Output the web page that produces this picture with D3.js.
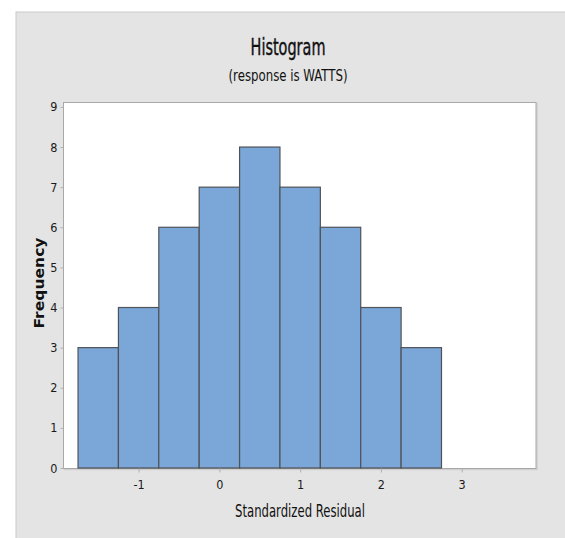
<!DOCTYPE html>
<html>
<head>
<meta charset="utf-8">
<script src="https://cdn.jsdelivr.net/npm/d3@7"></script>
<style>
  body { margin: 0; background: #fff; }
  text { font-family: "Liberation Sans Narrow", "DejaVu Sans Condensed", "Liberation Sans", sans-serif; fill: #111; }
  .axis path, .axis line { stroke: #b0b0b0; }
  .axis text { font-size: 12.5px; fill: #1a1a1a; }
</style>
</head>
<body>
<svg width="565" height="538"></svg>
<script>
// histogram of standardized residuals
var binEdges = [-1.75, -1.25, -0.75, -0.25, 0.25, 0.75, 1.25, 1.75, 2.25, 2.75];
var counts = [3, 4, 6, 7, 8, 7, 6, 4, 3];
var xTicks = [-1, 0, 1, 2, 3];
var yTicks = [0, 1, 2, 3, 4, 5, 6, 7, 8, 9];

var bins = counts.map(function(c, i) {
    return { x0: binEdges[i], x1: binEdges[i + 1], n: c };
});

var svg = d3.select("svg");

// gray panel
svg.append("rect")
    .attr("x", 16).attr("y", 12)
    .attr("width", 560).attr("height", 540)
    .attr("fill", "#e4e4e4")
    .attr("stroke", "#c9c9c9");

var plotL = 63.5, plotR = 536, plotT = 102.5, plotB = 468.5;

var x = d3.scaleLinear().domain([-1.93, 3.92]).range([plotL, plotR]);
var y = d3.scaleLinear().domain([0, 9.11]).range([plotB - 0.5, plotT]);

// plot area
svg.append("rect")
    .attr("x", plotL + 1).attr("y", plotT + 1)
    .attr("width", plotR - plotL).attr("height", plotB - plotT)
    .attr("fill", "none").attr("stroke", "#cfcfcf").attr("stroke-width", 1.5);
svg.append("rect")
    .attr("x", plotL).attr("y", plotT)
    .attr("width", plotR - plotL).attr("height", plotB - plotT)
    .attr("fill", "#fff").attr("stroke", "#a8a8a8");

svg.append("text")
    .attr("x", 288).attr("y", 55)
    .attr("text-anchor", "middle")
    .attr("font-size", 23)
    .style("stroke", "#111").style("stroke-width", 0.4)
    .attr("textLength", 75).attr("lengthAdjust", "spacingAndGlyphs")
    .text("Histogram");

svg.append("text")
    .attr("x", 288).attr("y", 81)
    .attr("text-anchor", "middle")
    .attr("font-size", 16)
    .attr("textLength", 119).attr("lengthAdjust", "spacingAndGlyphs")
    .text("(response is WATTS)");

svg.selectAll(".bar")
    .data(bins)
    .enter()
    .append("rect")
    .attr("class", "bar")
    .attr("x", function(d) { return x(d.x0); })
    .attr("y", function(d) { return y(d.n); })
    .attr("width", function(d) { return x(d.x1) - x(d.x0); })
    .attr("height", function(d) { return y(0) - y(d.n); })
    .attr("fill", "#7ba6d8")
    .attr("stroke", "#4f5358")
    .attr("stroke-width", 1.2);

var gx = svg.append("g")
    .attr("class", "axis")
    .attr("transform", "translate(0," + plotB + ")")
    .call(d3.axisBottom(x).tickValues(xTicks).tickSize(4).tickPadding(8).tickFormat(function(d) { return String(d); }));
gx.select(".domain").remove();

var gy = svg.append("g")
    .attr("class", "axis")
    .attr("transform", "translate(" + plotL + ",0)")
    .call(d3.axisLeft(y).tickValues(yTicks).tickSize(3).tickPadding(3).tickFormat(function(d) { return String(d); }));
gy.select(".domain").remove();

svg.append("text")
    .attr("x", 300).attr("y", 517)
    .attr("text-anchor", "middle")
    .attr("font-size", 17)
    .attr("textLength", 130).attr("lengthAdjust", "spacingAndGlyphs")
    .text("Standardized Residual");

svg.append("text")
    .attr("transform", "translate(44,283) rotate(-90)")
    .attr("text-anchor", "middle")
    .attr("font-size", 14)
    .attr("font-weight", "bold")
    .style("font-family", "'DejaVu Sans', sans-serif")
    .attr("textLength", 91).attr("lengthAdjust", "spacingAndGlyphs")
    .text("Frequency");
</script>
</body>
</html>
